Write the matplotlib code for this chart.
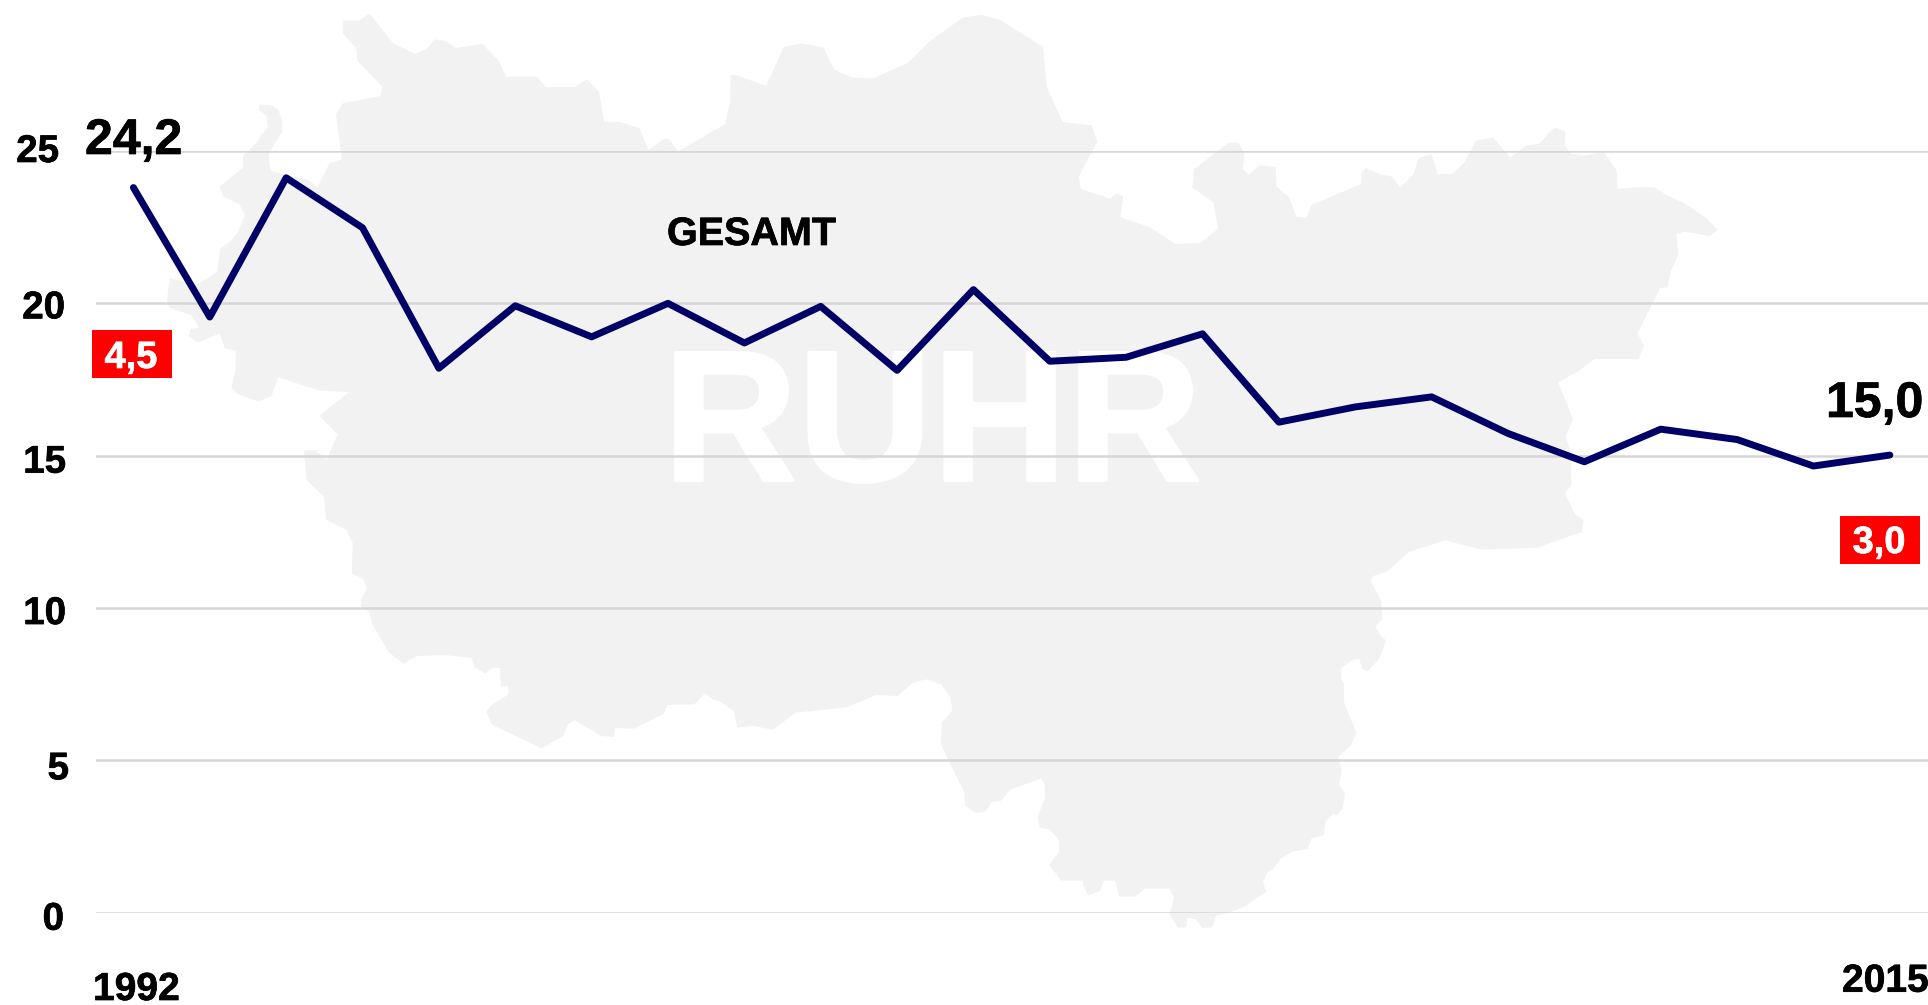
import matplotlib
matplotlib.use("Agg")
import matplotlib.pyplot as plt
import matplotlib.patheffects as pe
from matplotlib.patches import Polygon, Rectangle

W, H = 1928, 1005

years = list(range(1992, 2016))
gesamt = [23.8, 19.55, 24.12, 22.48, 17.87, 19.92, 18.9, 20.0, 18.7, 19.9, 17.8, 20.45,
          18.1, 18.23, 19.0, 16.1, 16.6, 16.93, 15.73, 14.8, 15.87, 15.53, 14.66, 15.02]
y_ticks = [25, 20, 15, 10, 5, 0]
y_tick_right = [59, 65, 66, 66, 69, 64]   # the labels are placed by hand in the original
y_tick_drop = [1, 5, 7, 6, 9, 7]

# Ruhr outline traced in pieces: (left, top, x scale, points)
map_parts = [
    (0, 0, 2.45, [(840, 62), (880, 62), (905, 40), (963, 130), (1017, 162), (1046, 146), (1065, 118),
                  (1092, 124), (1118, 144), (1182, 132), (1222, 183), (1240, 230), (1316, 230), (1337, 261),
                  (1408, 261), (1438, 238), (1468, 276), (1480, 365), (1518, 366), (1568, 385)]),
    (640, 0, 2.45, [(0, 388), (21, 450), (60, 416), (70, 416), (92, 452), (100, 450), (209, 372), (221, 303),
                    (222, 225), (238, 226), (309, 258), (352, 142), (394, 130), (449, 142), (476, 209), (516, 232),
                    (572, 235), (657, 188), (710, 123), (791, 53), (837, 44), (882, 60), (987, 140), (997, 263),
                    (1036, 366), (1106, 376), (1120, 425), (1075, 530), (1080, 567), (1152, 596), (1167, 580),
                    (1184, 588), (1177, 652), (1250, 682), (1312, 732), (1373, 729), (1416, 686), (1405, 607),
                    (1353, 563), (1357, 508), (1442, 428), (1466, 428), (1481, 460), (1477, 507), (1492, 524),
                    (1517, 496), (1557, 501), (1560, 560), (1568, 568)]),
    (1280, 0, 2.42, [(0, 570), (21, 590), (40, 651), (64, 653), (76, 615), (195, 553), (197, 518), (207, 504),
                     (243, 524), (268, 528), (291, 562), (324, 522), (334, 475), (366, 463), (382, 522), (418, 522),
                     (446, 487), (475, 422), (516, 413), (557, 473), (597, 436), (627, 431), (664, 383), (690, 394),
                     (690, 438), (704, 462), (740, 466), (784, 457), (815, 512), (817, 566), (880, 561), (908, 563),
                     (938, 587), (982, 612), (1033, 656), (1059, 690), (1040, 708), (978, 695), (960, 703), (964, 765),
                     (945, 815), (938, 862), (920, 864), (865, 1000), (881, 1037), (868, 1077), (762, 1077), (719, 1116),
                     (673, 1147), (709, 1257), (691, 1310), (705, 1360), (705, 1455), (690, 1480), (697, 1500)]),
    (1280, 500, 2.42, [(714, 42), (734, 60), (730, 96), (622, 143), (489, 149), (399, 121), (313, 155), (259, 214),
                       (226, 228), (219, 243), (245, 303), (248, 357), (231, 380), (245, 408), (257, 422), (240, 476),
                       (212, 514), (198, 504), (192, 476), (176, 479), (148, 505), (148, 535), (155, 552), (155, 606),
                       (185, 700), (170, 738), (140, 772), (150, 812), (143, 852), (157, 881), (152, 923), (139, 946),
                       (129, 940), (110, 965), (106, 1005), (76, 1016), (67, 1047), (30, 1055), (0, 1077)]),
    (640, 500, 2.45, [(1552, 1105), (1537, 1117), (1526, 1147), (1535, 1175), (1478, 1222), (1440, 1240), (1412, 1247),
                      (1402, 1282), (1377, 1284), (1362, 1258), (1341, 1253), (1338, 1282), (1318, 1282), (1297, 1243),
                      (1309, 1194), (1297, 1166), (1238, 1166), (1213, 1190), (1175, 1190), (1164, 1142), (1137, 1142),
                      (1127, 1172), (1099, 1187), (1085, 1155), (1085, 1142), (1033, 1142), (1002, 1096), (1027, 1055),
                      (1027, 1022), (1004, 988), (979, 983), (974, 950), (992, 895), (992, 853), (983, 836), (908, 868),
                      (884, 903), (862, 906), (846, 935), (823, 939), (796, 915), (795, 877), (757, 785), (736, 728),
                      (740, 667), (765, 632), (761, 594), (738, 553), (701, 538), (670, 547), (631, 588), (578, 585),
                      (506, 622), (380, 638), (326, 690), (277, 677), (239, 683), (229, 632), (195, 604), (178, 598),
                      (160, 579), (133, 613), (68, 615), (57, 642), (0, 677)]),
    (0, 500, 2.45, [(1553, 686), (1507, 684), (1503, 711), (1472, 708), (1407, 660), (1391, 674), (1380, 708),
                    (1327, 745), (1205, 674), (1191, 634), (1208, 612), (1245, 584), (1245, 558), (1227, 557),
                    (1225, 504), (1208, 503), (1189, 520), (1163, 503), (1155, 474), (1090, 465), (1022, 468),
                    (988, 491), (952, 456), (912, 372), (905, 335), (885, 320), (885, 295), (899, 267), (891, 238),
                    (862, 220), (864, 128), (848, 90), (799, 60), (795, 0)]),
    (0, 0, 2.45, [(793, 1490), (751, 1440), (745, 1352), (775, 1352), (800, 1380), (827, 1303), (782, 1248), (855, 1176),
                  (783, 1172), (682, 1132), (665, 1188), (633, 1205), (582, 1182), (567, 1163), (577, 1110), (578, 1052),
                  (551, 1045), (538, 1000), (486, 1028), (462, 1010), (467, 988), (488, 982), (468, 945), (417, 925),
                  (409, 905), (415, 833), (480, 855), (532, 816), (540, 745), (562, 727), (583, 697), (600, 645),
                  (587, 614), (548, 590), (538, 560), (595, 503), (596, 467), (631, 425), (641, 402), (656, 385),
                  (653, 347), (634, 330), (635, 314), (662, 314), (682, 330), (692, 365), (691, 395), (658, 462),
                  (662, 513), (757, 540), (777, 563), (807, 490), (838, 478), (823, 342), (840, 310), (932, 288),
                  (937, 260), (876, 183), (873, 145), (840, 100)]),
]

plt.rcParams["font.family"] = ["Liberation Sans", "DejaVu Sans"]
plt.rcParams["font.weight"] = "bold"


def fx(x):
    return x / W


def fy(y):
    return 1 - y / H


def size(em_px):
    return em_px * 72 / 100


def heavy(color, width=0.5):
    # the original glyphs sit a little heavier than Liberation Sans Bold
    return [pe.withStroke(linewidth=width, foreground=color)]


fig = plt.figure(figsize=(W / 100, H / 100), dpi=100, facecolor="white")

outline = []
for left, top, sx, pts in map_parts:
    outline += [(fx(left + x / sx), fy(top + y / 3)) for x, y in pts]
fig.add_artist(Polygon(outline, closed=True, transform=fig.transFigure, facecolor="#f2f2f2",
                       edgecolor="none", zorder=-2))
fig.text(fx(663), fy(480.7), "RUHR", color="white", fontsize=size(186.5), ha="left", va="baseline", zorder=-1,
         path_effects=heavy("white", 2))

ax = fig.add_axes([fx(96), fy(912.7), fx(1928 - 96), (912.7 - 151) / H])
ax.patch.set_visible(False)
ax.set_xlim(1991.51, 2015.5)
ax.set_ylim(0, 25)
for s in ax.spines.values():
    s.set_visible(False)
ax.set_xticks([])
ax.set_yticks(y_ticks)
ax.set_yticklabels([])
ax.tick_params(length=0)
ax.grid(axis="y", color="#d6d6d6", linewidth=1.8)
ax.set_axisbelow(True)

ax.plot(years, gesamt, color="#000066", linewidth=5, solid_capstyle="round", solid_joinstyle="round",
        clip_on=False)

for v, right, drop in zip(y_ticks, y_tick_right, y_tick_drop):
    ax.annotate(str(v), xy=(0, v), xycoords=ax.get_yaxis_transform(), xytext=(right - 96, -drop),
                textcoords="offset pixels", ha="right", va="center", fontsize=size(38.5), color="black",
                annotation_clip=False, path_effects=heavy("black"))

fig.text(fx(85), fy(154), "24,2", fontsize=size(50), color="black", va="baseline", path_effects=heavy("black"))
fig.text(fx(1826), fy(417), "15,0", fontsize=size(50), color="black", va="baseline", path_effects=heavy("black"))
fig.text(fx(667), fy(245), "GESAMT", fontsize=size(39.5), color="black", va="baseline", path_effects=heavy("black"))
fig.text(fx(93), fy(1000), "1992", fontsize=size(39), color="black", va="baseline", path_effects=heavy("black"))
fig.text(fx(1842), fy(991.7), "2015", fontsize=size(39), color="black", va="baseline", path_effects=heavy("black"))

# red boxes with the change values
for x0, x1, y0, y1, base, txt in [(92, 172, 330, 378, 368, "4,5"), (1840, 1920, 516, 564, 553, "3,0")]:
    fig.add_artist(Rectangle((fx(x0), fy(y1)), fx(x1 - x0), (y1 - y0) / H, transform=fig.transFigure,
                             facecolor="#ff0000", edgecolor="none", zorder=3))
    fig.text(fx((x0 + x1) / 2 - 1), fy(base), txt, fontsize=size(38), color="white", ha="center",
             va="baseline", zorder=4, path_effects=heavy("white"))

fig.savefig("out.png", dpi=100, facecolor="white")
plt.close(fig)
